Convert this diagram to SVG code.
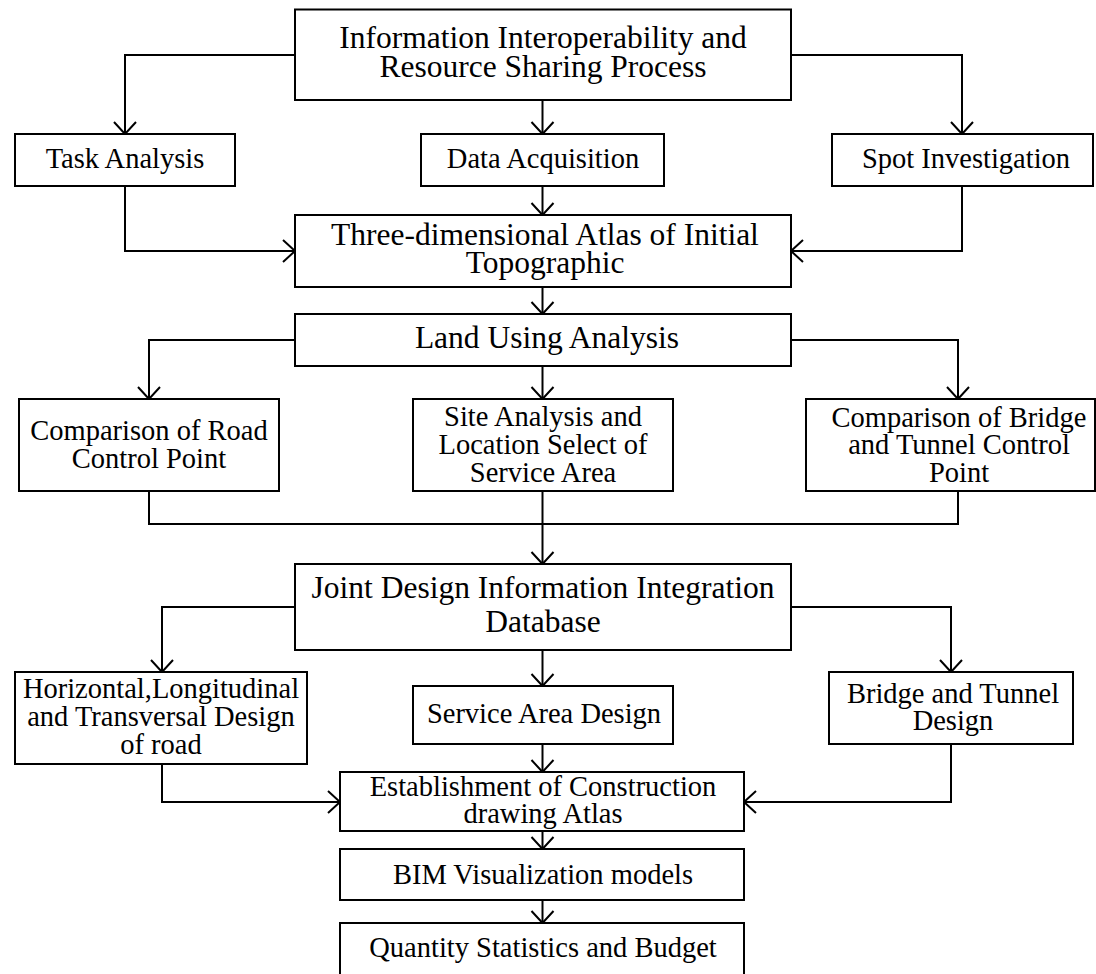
<svg xmlns="http://www.w3.org/2000/svg" width="1096" height="974" viewBox="0 0 1096 974">
  <style>
    .box { fill: #ffffff; stroke: #000000; stroke-width: 2; }
    .big { font-family: "Liberation Serif", "Times New Roman", serif; font-size: 31.5px; fill: #000000; text-anchor: middle; }
    .txt { font-family: "Liberation Serif", "Times New Roman", serif; font-size: 28.5px; fill: #000000; text-anchor: middle; }
    .wire { fill: none; stroke: #000000; stroke-width: 2; }
  </style>
  <defs>
    <marker id="open-arrow" markerUnits="userSpaceOnUse" viewBox="-14 -13 16 26" refX="0" refY="0" markerWidth="16" markerHeight="26" orient="auto">
      <path d="M-12,-11 L0,0 L-12,11" fill="none" stroke="#000000" stroke-width="2"/>
    </marker>
  </defs>
  <rect width="1096" height="974" fill="#ffffff"/>

  <!-- connectors -->
  <g id="connectors" class="wire">
    <path d="M295,55 H125 V134" marker-end="url(#open-arrow)"/>
    <path d="M542.5,100 V134" marker-end="url(#open-arrow)"/>
    <path d="M791,55 H962 V134" marker-end="url(#open-arrow)"/>
    <path d="M125,186 V251 H295" marker-end="url(#open-arrow)"/>
    <path d="M542.5,186 V215" marker-end="url(#open-arrow)"/>
    <path d="M962,186 V251 H791" marker-end="url(#open-arrow)"/>
    <path d="M542.5,287 V314" marker-end="url(#open-arrow)"/>
    <path d="M295,340 H149 V399" marker-end="url(#open-arrow)"/>
    <path d="M542.5,366 V399" marker-end="url(#open-arrow)"/>
    <path d="M791,340 H958 V399" marker-end="url(#open-arrow)"/>
    <path d="M149,491 V524 H958 V491"/>
    <path d="M542.5,491 V564" marker-end="url(#open-arrow)"/>
    <path d="M295,607 H162 V672" marker-end="url(#open-arrow)"/>
    <path d="M542.5,650 V686" marker-end="url(#open-arrow)"/>
    <path d="M791,607 H951 V672" marker-end="url(#open-arrow)"/>
    <path d="M162,764 V802 H340" marker-end="url(#open-arrow)"/>
    <path d="M542.5,744 V772" marker-end="url(#open-arrow)"/>
    <path d="M951,744 V802 H744" marker-end="url(#open-arrow)"/>
    <path d="M542.5,831 V849" marker-end="url(#open-arrow)"/>
    <path d="M542.5,900 V923" marker-end="url(#open-arrow)"/>
  </g>

  <!-- nodes -->
  <g id="interoperability">
    <rect class="box" x="295" y="9.5" width="496" height="90.5"/>
    <text class="big"><tspan x="543" y="48">Information Interoperability and</tspan><tspan x="543" y="77">Resource Sharing Process</tspan></text>
  </g>
  <g id="task-analysis">
    <rect class="box" x="15" y="134" width="220" height="52"/>
    <text class="txt" x="125" y="168">Task Analysis</text>
  </g>
  <g id="data-acquisition">
    <rect class="box" x="421" y="134" width="243" height="52"/>
    <text class="txt" x="543" y="168">Data Acquisition</text>
  </g>
  <g id="spot-investigation">
    <rect class="box" x="832" y="134" width="261" height="52"/>
    <text class="txt" x="966" y="168">Spot Investigation</text>
  </g>
  <g id="topographic-atlas">
    <rect class="box" x="295" y="215" width="496" height="72"/>
    <text class="big"><tspan x="545" y="245">Three-dimensional Atlas of Initial</tspan><tspan x="545" y="273">Topographic</tspan></text>
  </g>
  <g id="land-using">
    <rect class="box" x="295" y="314" width="496" height="52"/>
    <text class="big" x="547" y="348">Land Using Analysis</text>
  </g>
  <g id="road-control">
    <rect class="box" x="19" y="399" width="260" height="92"/>
    <text class="txt"><tspan x="149" y="440">Comparison of Road</tspan><tspan x="149" y="468">Control Point</tspan></text>
  </g>
  <g id="site-analysis">
    <rect class="box" x="413" y="399" width="260" height="92"/>
    <text class="txt"><tspan x="543" y="426">Site Analysis and</tspan><tspan x="543" y="454">Location Select of</tspan><tspan x="543" y="482">Service Area</tspan></text>
  </g>
  <g id="bridge-tunnel-control">
    <rect class="box" x="806" y="399" width="289" height="92"/>
    <text class="txt"><tspan x="959" y="427">Comparison of Bridge</tspan><tspan x="959" y="454">and Tunnel Control</tspan><tspan x="959" y="482">Point</tspan></text>
  </g>
  <g id="joint-database">
    <rect class="box" x="295" y="564" width="496" height="86"/>
    <text class="big"><tspan x="543" y="598">Joint Design Information Integration</tspan><tspan x="543" y="632">Database</tspan></text>
  </g>
  <g id="road-design">
    <rect class="box" x="15" y="672" width="292" height="92"/>
    <text class="txt"><tspan x="161" y="698">Horizontal,Longitudinal</tspan><tspan x="161" y="726">and Transversal Design</tspan><tspan x="161" y="754">of road</tspan></text>
  </g>
  <g id="service-area-design">
    <rect class="box" x="413" y="686" width="260" height="58"/>
    <text class="txt" x="544" y="723">Service Area Design</text>
  </g>
  <g id="bridge-tunnel-design">
    <rect class="box" x="829" y="672" width="244" height="72"/>
    <text class="txt"><tspan x="953" y="703">Bridge and Tunnel</tspan><tspan x="953" y="730">Design</tspan></text>
  </g>
  <g id="construction-atlas">
    <rect class="box" x="340" y="772" width="404" height="59"/>
    <text class="txt"><tspan x="543" y="796">Establishment of Construction</tspan><tspan x="543" y="823">drawing Atlas</tspan></text>
  </g>
  <g id="bim-models">
    <rect class="box" x="340" y="849" width="404" height="51"/>
    <text class="txt" x="543" y="884">BIM Visualization models</text>
  </g>
  <g id="quantity-budget">
    <rect class="box" x="340" y="923" width="404" height="70"/>
    <text class="txt" x="543" y="957">Quantity Statistics and Budget</text>
  </g>
</svg>
